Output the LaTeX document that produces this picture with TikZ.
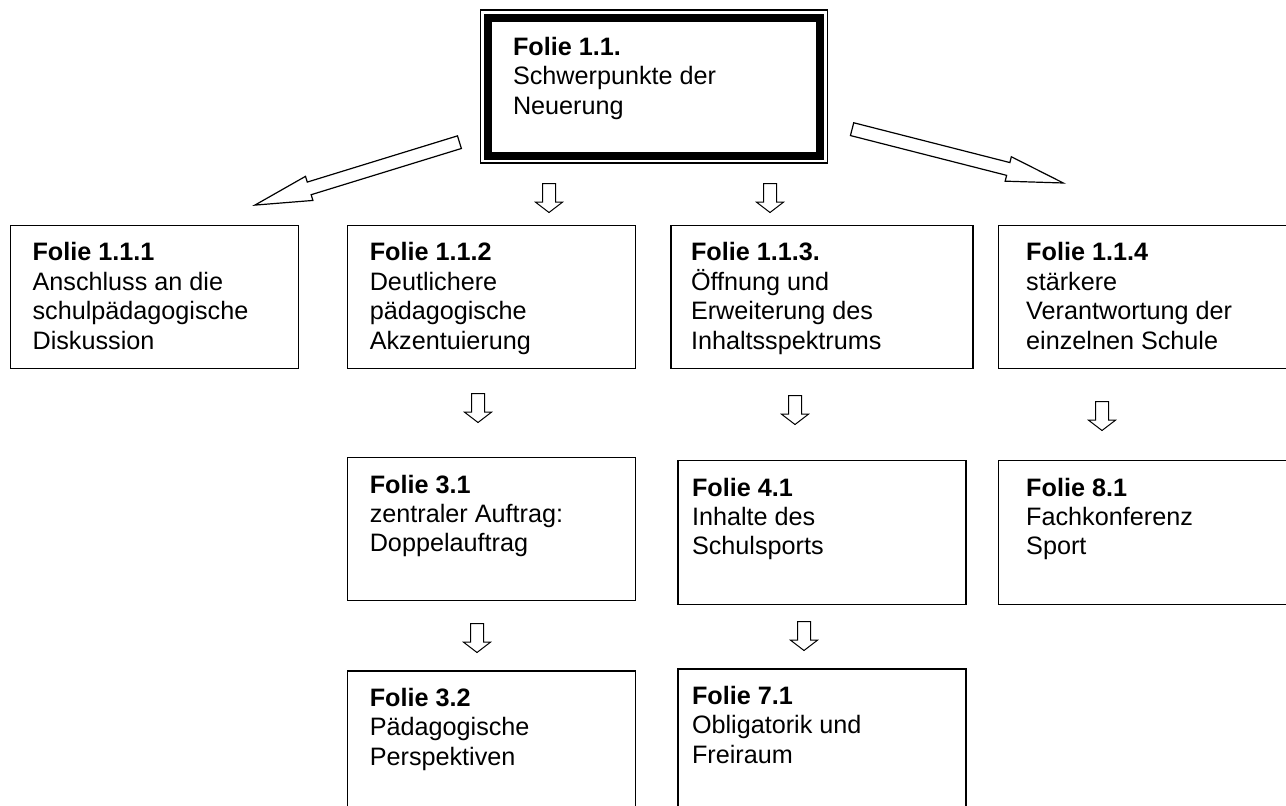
\documentclass[tikz,border=0pt]{standalone}
\usepackage{fontspec}
\setmainfont{Liberation Sans}
\usepackage{tikz}
\usetikzlibrary{positioning,shapes.arrows}
\newcommand{\FolieFont}{\fontsize{12.6pt}{14.7pt}\selectfont}
\newcommand{\folie}[4]{\parbox[t][#1][t]{#2}{\textbf{#3}\\#4}}
\tikzstyle{FolieNode}=[rectangle, draw=black, line width=0.6pt, inner xsep=11pt, inner ysep=8.5pt, font=\FolieFont]
\tikzstyle{MainNode}=[rectangle, draw=black, line width=4pt, outer sep=0pt, inner xsep=12.5pt, inner ysep=9.75pt, font=\FolieFont]
\tikzstyle{BigArrow}=[single arrow, draw=black, line width=0.6pt, inner xsep=0pt, inner ysep=3pt, single arrow head extend=3pt, single arrow tip angle=25, anchor=tail]
\tikzstyle{SmallArrow}=[single arrow, draw=black, line width=0.5pt, inner xsep=0pt, inner ysep=3pt, single arrow head extend=3.5pt, single arrow tip angle=105, minimum height=14.5pt, rotate=-90, anchor=tail]

\begin{document}
\begin{tikzpicture}[x=0.5pt, y=-0.5pt]
    \clip (0,0) rectangle (1286,805);

    \node (top) [MainNode] at (654,86.5) {\folie{49.5pt}{141pt}{Folie 1.1.}{Schwerpunkte der\\Neuerung}};
    \draw [line width=0.6pt] ([shift={(-3.75pt,3.75pt)}]top.north west) rectangle ([shift={(3.75pt,-3.75pt)}]top.south east);

    \node (b111) [FolieNode, anchor=north west] at (10,225) {\folie{54.5pt}{122pt}{Folie 1.1.1}{Anschluss an die\\schulpädagogische\\Diskussion}};
    \node (b112) [FolieNode, right=24pt of b111] {\folie{54.5pt}{122pt}{Folie 1.1.2}{Deutlichere\\pädagogische\\Akzentuierung}};
    \node (b113) [FolieNode, inner xsep=10pt, right=17pt of b112] {\folie{54.5pt}{131pt}{Folie 1.1.3.}{Öffnung und\\Erweiterung des\\Inhaltsspektrums}};
    \node (b114) [FolieNode, inner xsep=14pt, right=12pt of b113] {\folie{54.5pt}{116pt}{Folie 1.1.4}{stärkere\\Verantwortung der\\einzelnen Schule}};

    \node (b31) [FolieNode, below=44pt of b112] {\folie{54.5pt}{122pt}{Folie 3.1}{zentraler Auftrag:\\Doppelauftrag}};
    \node (b41) [FolieNode, inner xsep=7pt, below=45.5pt of b113] {\folie{55pt}{130pt}{Folie 4.1}{Inhalte des\\Schulsports}};
    \node (b81) [FolieNode, inner xsep=14pt, below=45.5pt of b114] {\folie{55pt}{116pt}{Folie 8.1}{Fachkonferenz\\Sport}};

    \node (b32) [FolieNode, below=34.5pt of b31] {\folie{64pt}{122pt}{Folie 3.2}{Pädagogische\\Perspektiven}};
    \node (b71) [FolieNode, inner xsep=7pt, below=31.5pt of b41] {\folie{65pt}{130pt}{Folie 7.1}{Obligatorik und\\Freiraum}};

    % hollow arrows
    \node (arrowL) [BigArrow, minimum height=107pt, rotate=197.1] at (460,142) {};
    \node (arrowR) [BigArrow, minimum height=109pt, rotate=-14.3] at (851.5,129) {};

    \node (down1) [SmallArrow] at (549,183) {};
    \node (down2) [SmallArrow] at (770,183) {};
    \node (down3) [SmallArrow] at (478,393) {};
    \node (down4) [SmallArrow] at (795,395) {};
    \node (down5) [SmallArrow] at (1102,401) {};
    \node (down6) [SmallArrow] at (477,623) {};
    \node (down7) [SmallArrow] at (804,621) {};
\end{tikzpicture}
\end{document}
